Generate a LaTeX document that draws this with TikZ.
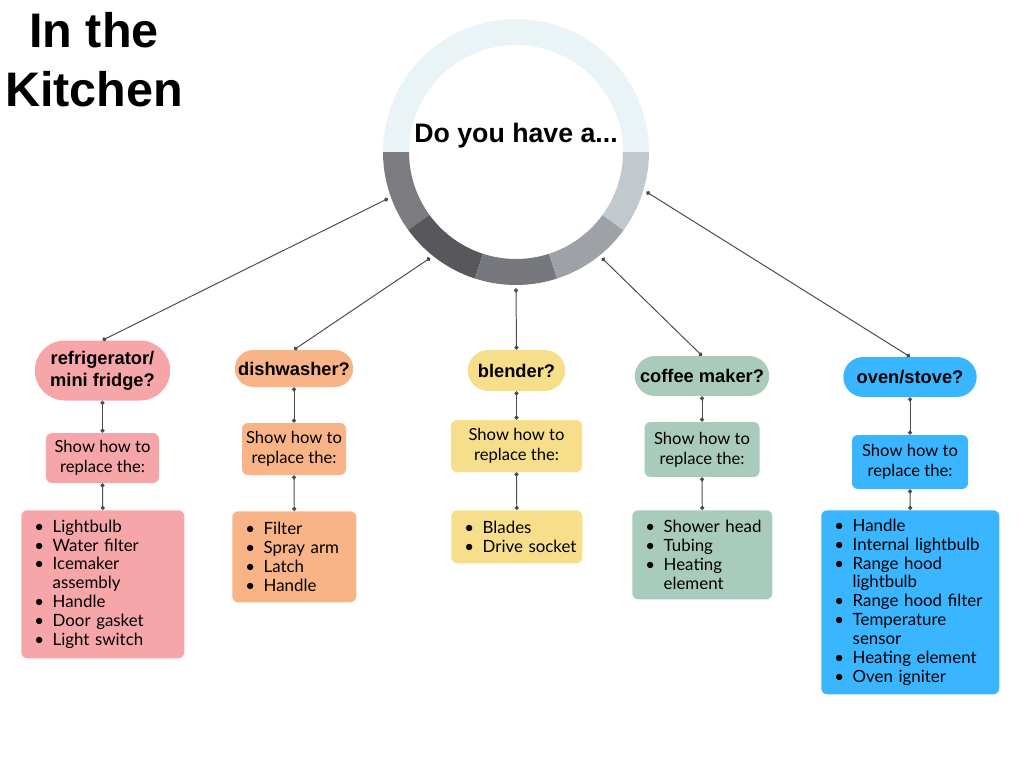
\documentclass[tikz,border=0pt]{standalone}
\usepackage{fontspec}
\setmainfont{Lato}
\newfontfamily\headfont{Liberation Sans}
\usepackage{xcolor}
\usepackage{tikz}
\usetikzlibrary{positioning,arrows.meta,shapes.misc}
\definecolor{fridgePink}{HTML}{F6A5A8}
\definecolor{dishOrange}{HTML}{F8B486}
\definecolor{blendYellow}{HTML}{F7DE8A}
\definecolor{coffeeGreen}{HTML}{A9CBBC}
\definecolor{ovenBlue}{HTML}{39B6FF}
\definecolor{ringLight}{HTML}{EAF3F5}
\definecolor{segA}{HTML}{7B7B80}
\definecolor{segB}{HTML}{57575C}
\definecolor{segC}{HTML}{77787D}
\definecolor{segD}{HTML}{9EA2A6}
\definecolor{segE}{HTML}{C2C9CD}
\newcommand{\itm}{\hspace*{3.25mm}\makebox[4.6mm][l]{\textbullet}}
\newcommand{\cont}{\hspace*{7.85mm}}
\tikzset{
  pill/.style={rounded rectangle,align=center,inner sep=2pt,font=\headfont\bfseries\fontsize{13}{15.6}\selectfont},
  showbox/.style={rounded corners=1.5mm,align=center,inner sep=2pt,font=\fontsize{11.8}{14}\selectfont},
  listbox/.style={rounded corners=1.5mm,align=left,inner xsep=0pt,anchor=north west,font=\fontsize{12}{13.5}\selectfont},
  link/.style={{Circle[length=3pt]}-{Circle[length=3pt]},draw=black!70,line width=0.7pt},
}

\begin{document}
\begin{tikzpicture}[x=0.25mm,y=-0.25mm]
\useasboundingbox[fill=white] (0,0) rectangle (1024,768);

% title
\node[font=\headfont\bfseries\fontsize{34.5}{42}\selectfont,align=center] (title) at (94,60) {In the\\Kitchen};

% ring
\coordinate (c) at (516,152);
\foreach \s/\e/\col in {0/180/ringLight,180/216/segA,216/252/segB,252/288/segC,288/324/segD,324/360/segE}
  \fill[\col] ([shift={(\s:3.325cm)}]c) arc[start angle=\s,end angle=\e,radius=3.325cm]
    -- ([shift={(\e:2.675cm)}]c) arc[start angle=\e,end angle=\s,radius=2.675cm] -- cycle;
\node[circle,minimum size=6.8cm,inner sep=0pt] (ring) at (c) {};
\node[font=\headfont\bfseries\fontsize{19}{23}\selectfont] (ask) at (516,136) {Do you have a...};

% questions
\node[pill,fill=fridgePink,minimum width=35.25mm,minimum height=15mm] (fridge) at (102.5,370.5) {refrigerator/\\mini fridge?};
\node[pill,fill=dishOrange,minimum width=31mm,minimum height=9.25mm] (dish) at (294,368.5) {dishwasher?};
\node[pill,fill=blendYellow,minimum width=25.75mm,minimum height=10.25mm] (blender) at (516.5,370.5) {blender?};
\node[pill,fill=coffeeGreen,minimum width=35mm,minimum height=10mm] (coffee) at (702,376) {coffee maker?};
\node[pill,fill=ovenBlue,minimum width=34.75mm,minimum height=10mm] (oven) at (910,377) {oven/stove?};

% show how to
\node[showbox,fill=fridgePink,minimum width=28.25mm,minimum height=12.5mm] (fridgeshow) at (102.5,458) {Show how to\\replace the:};
\node[showbox,fill=dishOrange,minimum width=26mm,minimum height=13mm] (dishshow) at (294,449) {Show how to\\replace the:};
\node[showbox,fill=blendYellow,minimum width=32.75mm,minimum height=13mm] (blendershow) at (516.5,446) {Show how to\\replace the:};
\node[showbox,fill=coffeeGreen,minimum width=28.75mm,minimum height=13.75mm] (coffeeshow) at (702,449.5) {Show how to\\replace the:};
\node[showbox,fill=ovenBlue,minimum width=29mm,minimum height=13.5mm] (ovenshow) at (910,462) {Show how to\\replace the:};

% parts
\node[listbox,fill=fridgePink,text width=40.75mm,minimum height=37mm] (fridgelist) at (21,510)
  {\itm Lightbulb\\\itm Water filter\\\itm Icemaker\\\cont assembly\\\itm Handle\\\itm Door gasket\\\itm Light switch};
\node[listbox,fill=dishOrange,text width=31mm,minimum height=22.75mm] (dishlist) at (232,511)
  {\itm Filter\\\itm Spray arm\\\itm Latch\\\itm Handle};
\node[listbox,fill=blendYellow,text width=32.75mm,minimum height=13.25mm] (blenderlist) at (451,510)
  {\itm Blades\\\itm Drive socket};
\node[listbox,fill=coffeeGreen,text width=35mm,minimum height=22.25mm] (coffeelist) at (632,510)
  {\itm Shower head\\\itm Tubing\\\itm Heating\\\cont element};
\node[listbox,fill=ovenBlue,text width=44.5mm,minimum height=46mm] (ovenlist) at (821,510)
  {\itm Handle\\\itm Internal lightbulb\\\itm Range hood\\\cont lightbulb\\\itm Range hood filter\\\itm Temperature\\\cont sensor\\\itm Heating element\\\itm Oven igniter};

% links
\draw[link] (ring.200) -- (fridge.north);
\draw[link] (ring.231.6) -- (dish.north);
\draw[link] (ring.270) -- (blender.north);
\draw[link] (ring.309) -- (coffee.north);
\draw[link] (ring.343.3) -- (oven.north);
\foreach \n in {fridge,dish,blender,coffee,oven} {
  \draw[link] (\n.south) -- (\n show.north);
  \draw[link] (\n show.south) -- (\n list.north);
}
\end{tikzpicture}
\end{document}
